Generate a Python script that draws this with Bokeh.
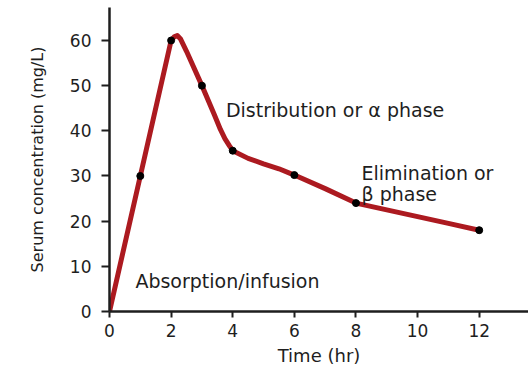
from bokeh.plotting import figure
from bokeh.models import Range1d, FixedTicker, Label
from bokeh.embed import file_html
from bokeh.resources import INLINE

# Sampled serum concentrations (black dots)
sample_time = [1, 2, 3, 4, 6, 8, 12]
sample_conc = [30, 60, 50, 35.6, 30.2, 24.0, 18.0]

# Smooth concentration curve
curve_time = [0, 1, 2, 2.1, 2.2, 2.3, 2.5, 3, 3.4, 3.6, 3.75, 3.9, 4, 4.5, 5, 5.5, 6, 7, 8, 9, 10, 11, 12]
curve_conc = [0, 30, 60, 60.8, 61.1, 60.4, 57.6, 50, 43.6, 40.3, 38.2, 36.6, 35.6, 33.9, 32.7, 31.6, 30.2, 27.2, 24.0, 22.5, 21.0, 19.5, 18.0]

x_ticks = [0, 2, 4, 6, 8, 10, 12]
y_ticks = [0, 10, 20, 30, 40, 50, 60]

FONT = "DejaVu Sans"
INK = "#1e1e1e"

p = figure(width=528, height=368, output_backend="svg", toolbar_location=None,
           x_range=Range1d(0, 13.6), y_range=Range1d(0, 67.3),
           min_border_left=109, min_border_right=0, min_border_top=7, min_border_bottom=56)
p.outline_line_color = None
p.xgrid.visible = False
p.ygrid.visible = False
p.background_fill_color = "white"

p.line(curve_time, curve_conc, line_color="#ac1a20", line_width=5,
       line_join="round", line_cap="round")
p.scatter(sample_time, sample_conc, size=7, fill_color="black", line_color="black")

for ax in (p.xaxis[0], p.yaxis[0]):
    ax.axis_line_width = 2.5
    ax.axis_line_color = INK
    ax.major_tick_line_color = INK
    ax.major_tick_line_width = 2
    ax.minor_tick_line_color = None
    ax.major_tick_in = 0
    ax.major_label_text_font = FONT
    ax.major_label_text_font_size = "17px"
    ax.major_label_text_color = INK
    ax.axis_label_text_font = FONT
    ax.axis_label_text_font_size = "16px"
    ax.axis_label_text_font_style = "normal"
    ax.axis_label_text_color = INK

p.xaxis[0].ticker = FixedTicker(ticks=x_ticks)
p.yaxis[0].ticker = FixedTicker(ticks=y_ticks)
p.xaxis[0].major_tick_out = 6
p.yaxis[0].major_tick_out = 8
p.xaxis[0].major_label_standoff = 6
p.yaxis[0].major_label_standoff = 10
p.xaxis[0].axis_label = "Time (hr)"
p.yaxis[0].axis_label = "Serum concentration (mg/L)"
p.xaxis[0].axis_label_standoff = 5
p.yaxis[0].axis_label_standoff = 20
p.xaxis[0].axis_label_text_font_size = "18px"

annotations = [
    ("Distribution or \u03b1 phase", 3.78, 44.6),
    ("Elimination or", 8.18, 30.6),
    ("\u03b2 phase", 8.18, 26.0),
    ("Absorption/infusion", 0.84, 6.8),
]
for txt, ax_, ay_ in annotations:
    p.add_layout(Label(x=ax_, y=ay_, text=txt, text_font=FONT, text_font_size="19px",
                       text_color=INK, text_baseline="alphabetic", text_align="left"))

open("out.html", "w").write(file_html(p, INLINE))
